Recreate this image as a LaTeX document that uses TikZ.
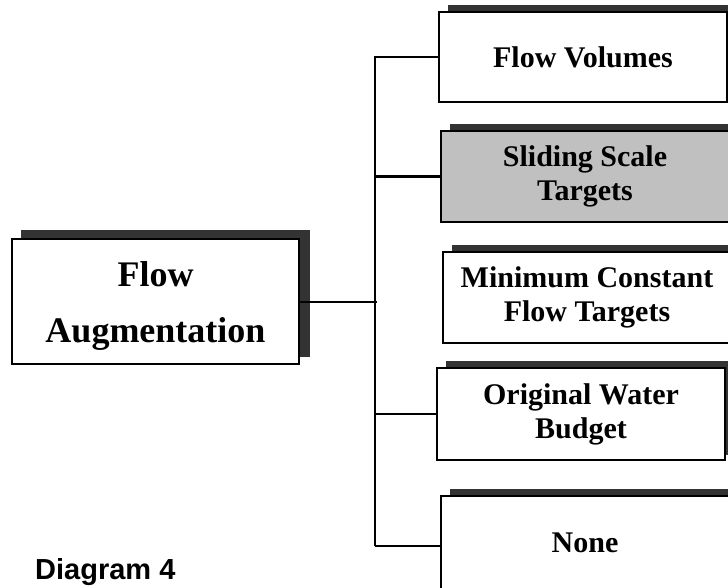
\documentclass[tikz,border=0pt]{standalone}
\usepackage{fontspec}
\setmainfont{Liberation Serif}
\newfontfamily\arialfont{Liberation Sans}
\usetikzlibrary{shadows}
\definecolor{shadowgray}{HTML}{333333}
\definecolor{boxgray}{HTML}{C0C0C0}
\begin{document}
\begin{tikzpicture}[x=1pt,y=-1pt,
  optbox/.style={draw=black, line width=1.7pt, fill=white, align=center,
    minimum width=288pt, inner sep=0pt,
    font=\bfseries\fontsize{30}{34}\selectfont,
    copy shadow={shadow xshift=10pt, shadow yshift=6pt, fill=shadowgray, draw=shadowgray}},
  mainbox/.style={draw=black, line width=1.7pt, fill=white, align=center,
    minimum width=287pt, minimum height=125pt, inner sep=0pt,
    font=\bfseries\fontsize{36}{56}\selectfont,
    copy shadow={shadow xshift=10pt, shadow yshift=8pt, fill=shadowgray, draw=shadowgray}},
  link/.style={line width=2.2pt, black}]
\useasboundingbox (0,0) rectangle (728,587);
\clip (0,0) rectangle (728,587);
\fill[white] (0,0) rectangle (728,587);

\node[mainbox] (main) at (155.5,301.5) {\rule{0pt}{34pt}Flow\\Augmentation};

\node[optbox, minimum height=90pt] (fv) at (583,57) {Flow Volumes};
\node[optbox, minimum height=91pt, fill=boxgray] (ss) at (585,176.5) {Sliding Scale\\Targets};
\node[optbox, minimum height=91pt] (mc) at (587,297.5) {Minimum Constant\\Flow Targets};
\node[optbox, minimum height=92pt] (ow) at (581,414) {Original Water\\Budget};
\node[optbox, minimum height=94pt] (none) at (585,543) {None};

\coordinate (vtop) at (375,56);
\coordinate (vbot) at (375,546);
\coordinate (hub) at (377,302);

\draw[link] (vtop) -- (vbot);
\draw[link] (main.east |- hub) -- (hub);
\draw[link] (fv.west) -- (fv.west -| vtop);
\draw[link] (ss.west) -- (ss.west -| vtop);
\draw[link] (ow.west) -- (ow.west -| vtop);
\draw[link] (vbot) -- (vbot -| none.west);

\node[anchor=base west, inner sep=0pt, font=\arialfont\bfseries\fontsize{29}{36}\selectfont] (cap) at (35,579) {Diagram 4};
\end{tikzpicture}
\end{document}
